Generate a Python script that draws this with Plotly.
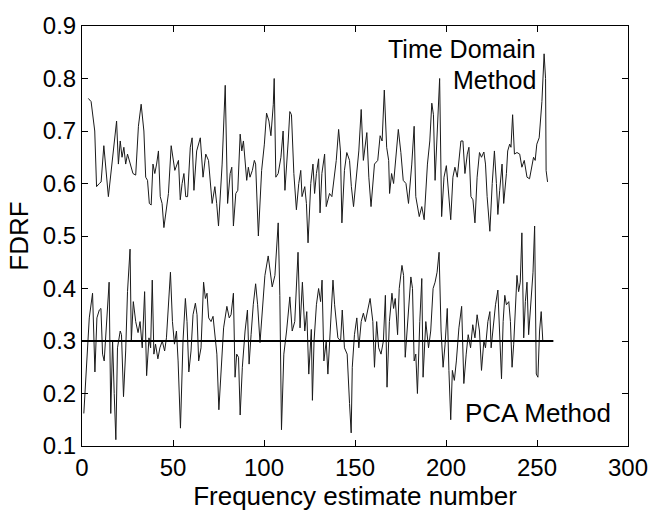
import plotly.graph_objects as go

# Time-domain method FDRF estimates
td_x = [3.5, 5, 7, 8, 9.5, 10.5, 12, 14.5, 19, 20, 21, 22, 23, 24, 25, 26.5, 28, 29.5, 31, 32.5,
        34, 35, 36, 37, 38, 39, 40, 41, 42, 43, 44, 45, 46.5, 47.5, 49, 51, 53, 54, 55, 56,
        57, 58, 59.5, 60.5, 61.5, 63, 65, 66.5, 68, 69.5, 71.5, 73, 74, 75, 77, 78.7, 80, 81.4, 82.3, 83.2,
        84.5, 85.6, 86.9, 87.8, 88.7, 89.6, 90.5, 91.4, 92.3, 93.6, 94.7, 95.4, 96.9, 98.7, 100.2, 101.4, 102.7, 103.8, 105.1, 105.6,
        106.5, 107.8, 109.3, 110.5, 111.5, 113.3, 114.2, 115.1, 116.4, 117.8, 119.1, 120.2, 120.9, 122.4, 123.3, 124.2, 125.7, 126.9, 127.8, 128.8,
        130, 130.8, 131.8, 133.3, 134.2, 136, 137.3, 139.7, 141, 142, 142.8, 144.2, 145.5, 147, 148, 149.2, 150.6, 152.1, 153.4, 154.6,
        156.5, 157.6, 158.8, 160.7, 162.5, 163.8, 164.9, 166.1, 167.4, 168.5, 169, 170.1, 171.2, 172.5, 173.8, 175.2, 176.5, 178, 179.4, 181.2,
        182.5, 183.4, 185.3, 186.7, 188, 189.8, 191.1, 192.2, 193.1, 194, 195.3, 196.5, 197.6, 198.9, 200.2, 201.3, 202.6, 203.8, 204.9, 206.2,
        207.1, 208.2, 209.3, 210.4, 211.7, 212.6, 213.7, 214.8, 215.9, 217.1, 218.4, 219.5, 220.8, 221.7, 222.6, 224.1, 225.4, 226.6, 227.7, 228.5,
        229.5, 230.8, 231.7, 233.2, 233.9, 235, 235.7, 236.6, 237.6, 239, 240.5, 241.7, 243, 244.5, 245.9, 247.2, 248.1, 249, 249.9, 251.2,
        252.7, 253.9, 254.7, 255, 255.8]
td_y = [0.762, 0.756, 0.70, 0.594, 0.60, 0.603, 0.672, 0.575, 0.719, 0.637, 0.681, 0.65, 0.669, 0.637, 0.656, 0.637, 0.619, 0.616, 0.709, 0.751,
        0.70, 0.612, 0.606, 0.562, 0.559, 0.637, 0.619, 0.637, 0.662, 0.575, 0.562, 0.516, 0.556, 0.581, 0.672, 0.625, 0.644, 0.569, 0.60, 0.619,
        0.575, 0.575, 0.669, 0.687, 0.587, 0.662, 0.687, 0.612, 0.656, 0.644, 0.562, 0.594, 0.562, 0.519, 0.637, 0.787, 0.562, 0.619, 0.631, 0.519,
        0.581, 0.587, 0.694, 0.662, 0.681, 0.637, 0.606, 0.631, 0.612, 0.625, 0.644, 0.637, 0.50, 0.625, 0.675, 0.734, 0.719, 0.691, 0.75, 0.80,
        0.612, 0.619, 0.65, 0.70, 0.587, 0.681, 0.737, 0.731, 0.619, 0.55, 0.60, 0.625, 0.575, 0.594, 0.562, 0.487, 0.60, 0.637, 0.581, 0.619,
        0.647, 0.544, 0.619, 0.656, 0.556, 0.581, 0.575, 0.644, 0.703, 0.662, 0.525, 0.625, 0.659, 0.644, 0.594, 0.556, 0.612, 0.662, 0.741, 0.644,
        0.697, 0.612, 0.556, 0.637, 0.644, 0.691, 0.681, 0.778, 0.669, 0.644, 0.581, 0.619, 0.60, 0.65, 0.703, 0.659, 0.606, 0.60, 0.562, 0.637,
        0.709, 0.575, 0.537, 0.556, 0.531, 0.637, 0.681, 0.753, 0.731, 0.606, 0.712, 0.80, 0.537, 0.612, 0.634, 0.581, 0.531, 0.612, 0.631, 0.612,
        0.644, 0.681, 0.681, 0.619, 0.656, 0.669, 0.575, 0.569, 0.525, 0.612, 0.659, 0.65, 0.66, 0.637, 0.575, 0.509, 0.60, 0.662, 0.60, 0.541,
        0.587, 0.637, 0.562, 0.619, 0.662, 0.675, 0.669, 0.731, 0.656, 0.659, 0.656, 0.631, 0.644, 0.612, 0.609, 0.637, 0.65, 0.644, 0.675, 0.687,
        0.756, 0.847, 0.80, 0.625, 0.603]

# PCA method FDRF estimates
pca_x = [1, 1.6, 2.7, 4, 5.8, 7.1, 8.2, 9.5, 10.4, 11.3, 12.2, 13.7, 14.9, 15.8, 16.8, 17.7, 18.6, 19.5, 21, 21.7,
         22.8, 24, 25, 26.4, 27.1, 28.2, 29.5, 30.8, 31.9, 33.1, 34.4, 35.5, 36.8, 37.7, 38.6, 39.5, 40.4, 41.7, 42.8, 44.1,
         45.4, 46.4, 47.4, 48.6, 49.7, 50.8, 51.9, 52.8, 54.1, 55.5, 56.8, 57.7, 58.7, 59.9, 61, 62.3, 63.2, 64.1, 65.4, 66.8,
         67.8, 68.7, 69.6, 70.9, 72, 73.2, 74.1, 75.2, 76.5, 77.8, 79.6, 80.9, 81.9, 83.2, 84.1, 85, 86, 86.9, 88.1, 89.6,
         90.9, 91.8, 92.9, 94.1, 95.4, 96.5, 97.8, 99.1, 100.5, 102.3, 103.3, 104.5, 106, 107.8, 108.7, 109.6, 110.9, 112.4, 114.2, 115.5,
         116.9, 118.7, 119.8, 121.1, 122.4, 123.5, 124.6, 125.5, 126, 126.6, 127.5, 128.8, 130, 131.1, 131.9, 132.9, 134.2, 135.1, 137.9, 138.8,
         140.6, 142.1, 143, 144.2, 145.7, 147, 147.9, 148.5, 149.7, 151, 152.1, 153.4, 154.6, 155.7, 157, 158.3, 159.8, 160.7, 161.9, 163,
         164.3, 165.6, 166.7, 167.6, 168.9, 170.3, 171.2, 172.1, 173.4, 174.3, 175.8, 176.7, 177.6, 178.9, 180.7, 181.6, 182.5, 183.4, 184.3, 185.6,
         186.7, 187.4, 188.9, 190.4, 191.6, 192.9, 194, 195.1, 196.2, 197.3, 198.4, 199.5, 200.7, 201.6, 202.6, 203.5, 204.6, 205.7, 207.1, 208.6,
         209.8, 211.1, 212.2, 213.5, 214.7, 215.9, 217.1, 218.4, 219.5, 220.8, 221.7, 223, 224.1, 224.8, 225.9, 227.2, 228.5, 229.5, 230.5, 231.4,
         232.3, 233.2, 234.5, 235.4, 236.3, 237.2, 238.1, 239, 239.9, 240.8, 241.7, 242.7, 243.6, 244.5, 245.4, 246.3, 247.8, 248.7, 249.6, 250.5,
         251.4, 252.3, 253.2]
pca_y = [0.162, 0.20, 0.262, 0.344, 0.391, 0.241, 0.344, 0.359, 0.362, 0.275, 0.262, 0.344, 0.412, 0.162, 0.30, 0.20, 0.112, 0.287, 0.319, 0.312,
         0.194, 0.281, 0.394, 0.475, 0.30, 0.375, 0.337, 0.316, 0.337, 0.287, 0.394, 0.234, 0.306, 0.287, 0.416, 0.275, 0.294, 0.266, 0.287, 0.30,
         0.281, 0.306, 0.375, 0.431, 0.337, 0.294, 0.319, 0.262, 0.134, 0.30, 0.381, 0.337, 0.241, 0.281, 0.35, 0.372, 0.35, 0.262, 0.287, 0.412,
         0.381, 0.391, 0.344, 0.337, 0.347, 0.30, 0.275, 0.169, 0.25, 0.325, 0.366, 0.344, 0.35, 0.391, 0.231, 0.275, 0.269, 0.159, 0.25, 0.319,
         0.359, 0.256, 0.312, 0.369, 0.409, 0.369, 0.297, 0.362, 0.425, 0.462, 0.437, 0.403, 0.425, 0.525, 0.387, 0.131, 0.275, 0.319, 0.384, 0.319,
         0.337, 0.469, 0.325, 0.412, 0.319, 0.356, 0.237, 0.287, 0.322, 0.187, 0.30, 0.369, 0.40, 0.375, 0.416, 0.262, 0.30, 0.237, 0.416, 0.369,
         0.306, 0.30, 0.359, 0.287, 0.275, 0.181, 0.125, 0.25, 0.312, 0.344, 0.287, 0.337, 0.353, 0.337, 0.362, 0.381, 0.337, 0.25, 0.337, 0.287,
         0.275, 0.30, 0.387, 0.212, 0.337, 0.391, 0.362, 0.381, 0.312, 0.40, 0.444, 0.425, 0.269, 0.337, 0.422, 0.40, 0.262, 0.275, 0.20, 0.337,
         0.419, 0.231, 0.337, 0.287, 0.319, 0.40, 0.412, 0.431, 0.469, 0.319, 0.25, 0.294, 0.362, 0.244, 0.15, 0.244, 0.225, 0.262, 0.325, 0.366,
         0.219, 0.275, 0.312, 0.287, 0.331, 0.306, 0.35, 0.319, 0.244, 0.30, 0.287, 0.337, 0.356, 0.287, 0.325, 0.369, 0.397, 0.312, 0.228, 0.337,
         0.387, 0.369, 0.375, 0.337, 0.25, 0.294, 0.35, 0.425, 0.394, 0.412, 0.506, 0.306, 0.375, 0.412, 0.312, 0.362, 0.431, 0.519, 0.237, 0.231,
         0.319, 0.356, 0.30]

# Reference level
ref_x = [0, 259]
ref_y = [0.3, 0.3]

x_ticks = [0, 50, 100, 150, 200, 250, 300]
y_ticks = [0.1, 0.2, 0.3, 0.4, 0.5, 0.6, 0.7, 0.8, 0.9]

FONT = "Liberation Sans, Arial, sans-serif"
LINE = "#1a1a1a"

fig = go.Figure()
fig.add_trace(go.Scatter(x=td_x, y=td_y, mode="lines", line=dict(color=LINE, width=1), showlegend=False))
fig.add_trace(go.Scatter(x=pca_x, y=pca_y, mode="lines", line=dict(color=LINE, width=1), showlegend=False))
fig.add_trace(go.Scatter(x=ref_x, y=ref_y, mode="lines", line=dict(color="black", width=2), showlegend=False))

fig.add_annotation(x=250, y=0.857, text="Time Domain", showarrow=False, xanchor="right", yanchor="middle",
                   borderpad=0, font=dict(family=FONT, size=25, color="black"))
fig.add_annotation(x=250, y=0.797, text="Method", showarrow=False, xanchor="right", yanchor="middle",
                   borderpad=0, font=dict(family=FONT, size=25, color="black"))
fig.add_annotation(x=292, y=0.163, text="PCA Method", showarrow=False, xanchor="right", yanchor="middle",
                   font=dict(family=FONT, size=26, color="black"))

fig.update_layout(
    width=660, height=512,
    margin=dict(l=82, r=32, t=20, b=66),
    paper_bgcolor="white", plot_bgcolor="white",
    font=dict(family=FONT, size=24, color="black"),
    xaxis=dict(range=[0, 300], tickvals=x_ticks, ticks="inside", ticklen=6, tickcolor="black",
               showline=True, linecolor="black", linewidth=1, mirror="ticks", showgrid=False, zeroline=False,
               title=dict(text="Frequency estimate number", font=dict(size=26), standoff=0),
               tickfont=dict(size=24)),
    yaxis=dict(range=[0.1, 0.9], tickvals=y_ticks, tickformat=".1f", ticks="inside", ticklen=6, tickcolor="black",
               showline=True, linecolor="black", linewidth=1, mirror="ticks", showgrid=False, zeroline=False,
               title=dict(text="FDRF", font=dict(size=26), standoff=6),
               tickfont=dict(size=24)),
)

fig.write_html("out.html")
